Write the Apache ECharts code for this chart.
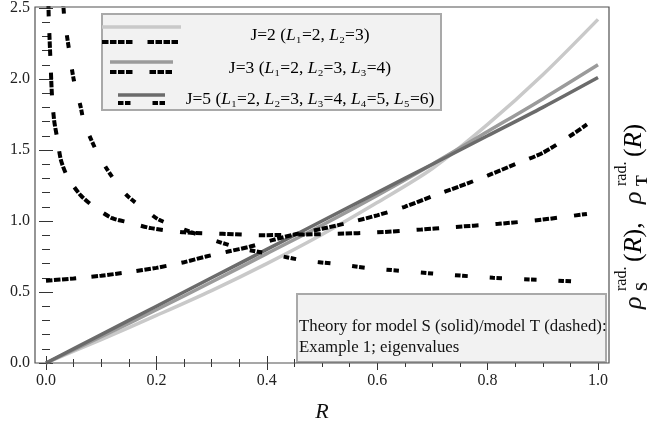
<!DOCTYPE html>
<html><head><meta charset="utf-8">
<script src="https://cdn.jsdelivr.net/npm/echarts@6/dist/echarts.min.js"></script>
<style>html,body{margin:0;padding:0;background:#fff}#c{width:652px;height:435px}</style>
</head><body><div id="c"></div><script>
// ---- data ----
var rGrid   = [0, 0.1, 0.2, 0.3, 0.4, 0.5, 0.6, 0.7, 0.8, 0.9, 1.0];
var solidJ2 = [0, 0.165, 0.335, 0.51, 0.70, 0.905, 1.13, 1.37, 1.68, 2.03, 2.42];
var solidJ3 = [0, 0.185, 0.375, 0.57, 0.77, 0.97, 1.18, 1.40, 1.63, 1.86, 2.10];
var solidJ5 = [0, 0.20, 0.40, 0.60, 0.80, 1.00, 1.20, 1.40, 1.60, 1.80, 2.01];

var dashJ2R = [0, 0.05, 0.1, 0.15, 0.2, 0.25, 0.29, 0.33, 0.37, 0.41, 0.45, 0.5, 0.55, 0.6, 0.65, 0.7, 0.75, 0.8, 0.85, 0.9, 0.95, 0.98];
var dashJ2  = [0.58, 0.595, 0.615, 0.64, 0.67, 0.71, 0.75, 0.785, 0.82, 0.865, 0.905, 0.945, 0.99, 1.04, 1.10, 1.175, 1.245, 1.32, 1.40, 1.48, 1.60, 1.68];

var dashJ3R = [0.004, 0.005, 0.008, 0.011, 0.015, 0.02, 0.027, 0.039, 0.063, 0.087, 0.12, 0.15, 0.19, 0.25, 0.32, 0.39, 0.46, 0.53, 0.60, 0.68, 0.73, 0.82, 0.90, 0.98];
var dashJ3  = [2.6, 2.43, 2.14, 1.87, 1.70, 1.59, 1.43, 1.31, 1.18, 1.10, 1.02, 0.99, 0.95, 0.92, 0.91, 0.90, 0.905, 0.91, 0.92, 0.94, 0.955, 0.98, 1.01, 1.05];

var dashJ5R = [0.031, 0.033, 0.042, 0.05, 0.063, 0.069, 0.081, 0.093, 0.108, 0.12, 0.144, 0.162, 0.186, 0.204, 0.24, 0.264, 0.30, 0.35, 0.41, 0.47, 0.52, 0.58, 0.64, 0.70, 0.81, 0.90, 0.98];
var dashJ5  = [2.55, 2.44, 2.20, 2.0, 1.80, 1.69, 1.58, 1.48, 1.38, 1.31, 1.19, 1.13, 1.06, 1.01, 0.955, 0.92, 0.87, 0.81, 0.765, 0.72, 0.70, 0.67, 0.65, 0.63, 0.60, 0.585, 0.57];

var legendLabels = [
  '{n|J=2 (}{i|L}{n|\u2081=2, }{i|L}{n|\u2082=3)}',
  '{n|J=3 (}{i|L}{n|\u2081=2, }{i|L}{n|\u2082=3, }{i|L}{n|\u2083=4)}',
  '{n|J=5 (}{i|L}{n|\u2081=2, }{i|L}{n|\u2082=3, }{i|L}{n|\u2083=4, }{i|L}{n|\u2084=5, }{i|L}{n|\u2085=6)}'
];
var noteLines = ['Theory for model S (solid)/model T (dashed):', 'Example 1; eigenvalues'];

// ---- styles ----
var SERIF = '"Liberation Serif","Times New Roman",serif';
var solidColors = ['#c9c9c9', '#9b9b9b', '#6b6b6b'];
var dashPatterns = [
  [6.5,1.5,6.5,1.5,6.5,1.5,6.5,15],
  [6.5,1.5,6.5,1.5,6.5,17],
  [5.5,1.5,5.5,22]
];
function zip(xs, ys){ return xs.map(function(x,i){ return [x, ys[i]]; }); }

var solidSeries = [solidJ2, solidJ3, solidJ5].map(function(v, k){
  return {type:'line', data: zip(rGrid, v), smooth:0.3, showSymbol:false, symbol:'none',
    lineStyle:{color: solidColors[k], width:3.5}, z:2, silent:true, clip:true};
});
var dashSeries = [[dashJ2R,dashJ2],[dashJ3R,dashJ3],[dashJ5R,dashJ5]].map(function(p, k){
  return {type:'line', data: zip(p[0], p[1]), smooth:0.25, showSymbol:false, symbol:'none',
    lineStyle:{color:'#000', width:4, type: dashPatterns[k], cap:'butt'}, z:3, silent:true, clip:true};
});

var axTick = {show:true, inside:true, length:7, lineStyle:{color:'#333', width:1}};
var axMinor = function(n){ return {show:true, splitNumber:n, length:4, lineStyle:{color:'#333', width:1}}; };
var lblStyle = {fontFamily: SERIF, fontSize:16, color:'#222'};

// legend graphics
var legendG = [{type:'rect', shape:{x:102, y:14, width:339, height:96}, style:{fill:'#f2f2f2', stroke:'#a9a9a9', lineWidth:2}, z:50}];
var legRows = [
  {x1:102, x2:181, ys:27, yd:42, yt:35},
  {x1:110, x2:173, ys:62, yd:72, yt:68},
  {x1:118, x2:165, ys:95, yd:103, yt:99}
];
var legRich = {n:{fontFamily:SERIF, fontSize:17.5, color:'#111'}, i:{fontFamily:SERIF, fontSize:17.5, fontStyle:'italic', color:'#111'}};
legRows.forEach(function(r, k){
  legendG.push({type:'line', shape:{x1:r.x1, y1:r.ys, x2:r.x2, y2:r.ys}, style:{stroke: solidColors[k], lineWidth:3.5}, z:51});
  legendG.push({type:'line', shape:{x1:r.x1, y1:r.yd, x2:r.x2, y2:r.yd}, style:{stroke:'#000', lineWidth:4, lineDash: dashPatterns[k]}, z:51});
  legendG.push({type:'text', x:310, y:r.yt, z:51, style:{text: legendLabels[k], align:'center', verticalAlign:'middle',
    textAlign:'center', textVerticalAlign:'middle', rich: legRich}});
});
// note box
legendG.push({type:'rect', shape:{x:297, y:294, width:309, height:68}, style:{fill:'#f2f2f2', stroke:'#a9a9a9', lineWidth:2}, z:50});
noteLines.forEach(function(t, k){
  legendG.push({type:'text', x:299, y:327 + 21*k, z:51, style:{text:t, fontFamily:SERIF, fontSize:16.8, fill:'#111',
    align:'left', verticalAlign:'middle', textAlign:'left', textVerticalAlign:'middle'}});
});
// frame
legendG.push({type:'rect', shape:{x:35, y:7, width:574, height:356}, style:{fill:'none', stroke:'#505050', lineWidth:1.2}, z:60, silent:true});
// right-hand label (rotated, reads bottom-to-top)
var fs = 26, ss = 16;
var mainRich = {n:{fontFamily:SERIF, fontSize:fs, color:'#111'}, i:{fontFamily:SERIF, fontSize:fs, fontStyle:'italic', color:'#111'}};
legendG.push({type:'group', x:634, y:207, rotation: Math.PI/2, z:60, children:[
  {type:'text', x:-102, y:0, style:{text:'\u03C1', fontFamily:SERIF, fontSize:fs, fontStyle:'italic', fill:'#111', verticalAlign:'middle'}},
  {type:'text', x:-84, y:-12, style:{text:'rad.', fontFamily:SERIF, fontSize:ss, fill:'#111', verticalAlign:'middle'}},
  {type:'text', x:-84, y:9, style:{text:'S', fontFamily:SERIF, fontSize:ss, fontWeight:'bold', fill:'#111', verticalAlign:'middle'}},
  {type:'text', x:-55, y:0, style:{text:'{n|(}{i|R}{n|),}', verticalAlign:'middle', rich: mainRich}},
  {type:'text', x:3, y:0, style:{text:'\u03C1', fontFamily:SERIF, fontSize:fs, fontStyle:'italic', fill:'#111', verticalAlign:'middle'}},
  {type:'text', x:21, y:-12, style:{text:'rad.', fontFamily:SERIF, fontSize:ss, fill:'#111', verticalAlign:'middle'}},
  {type:'text', x:21, y:9, style:{text:'T', fontFamily:SERIF, fontSize:ss, fontWeight:'bold', fill:'#111', verticalAlign:'middle'}},
  {type:'text', x:50, y:0, style:{text:'{n|(}{i|R}{n|)}', verticalAlign:'middle', rich: mainRich}}
]});

var chart = echarts.init(document.getElementById('c'), null, {renderer:'canvas'});
chart.setOption({
  animation:false,
  backgroundColor:'#fff',
  grid:{left:46, right:54, top:7, bottom:72, containLabel:false},
  xAxis:[
    {type:'value', min:0, max:1, interval:0.2, position:'bottom',
     axisLine:{show:false}, splitLine:{show:false}, axisTick:axTick, minorTick:axMinor(4),
     axisLabel:Object.assign({margin:10, formatter:function(v){return v.toFixed(1);}}, lblStyle),
     name:'R', nameLocation:'middle', nameGap:38,
     nameTextStyle:{fontFamily:SERIF, fontSize:22, fontStyle:'italic', color:'#111'}},
    {type:'value', min:0, max:1, interval:0.2, position:'top',
     axisLine:{show:false}, splitLine:{show:false}, axisTick:axTick, minorTick:axMinor(4), axisLabel:{show:false}}
  ],
  yAxis:[
    {type:'value', min:0, max:2.5, interval:0.5, position:'left', offset:11,
     axisLine:{show:false}, splitLine:{show:false}, axisTick:axTick, minorTick:axMinor(5),
     axisLabel:Object.assign({margin:5, formatter:function(v){return v.toFixed(1);}}, lblStyle)},
    {type:'value', min:0, max:2.5, interval:0.5, position:'right', offset:11,
     axisLine:{show:false}, splitLine:{show:false}, axisTick:axTick, minorTick:axMinor(5), axisLabel:{show:false}}
  ],
  series: solidSeries.concat(dashSeries),
  graphic: legendG
});
</script></body></html>
